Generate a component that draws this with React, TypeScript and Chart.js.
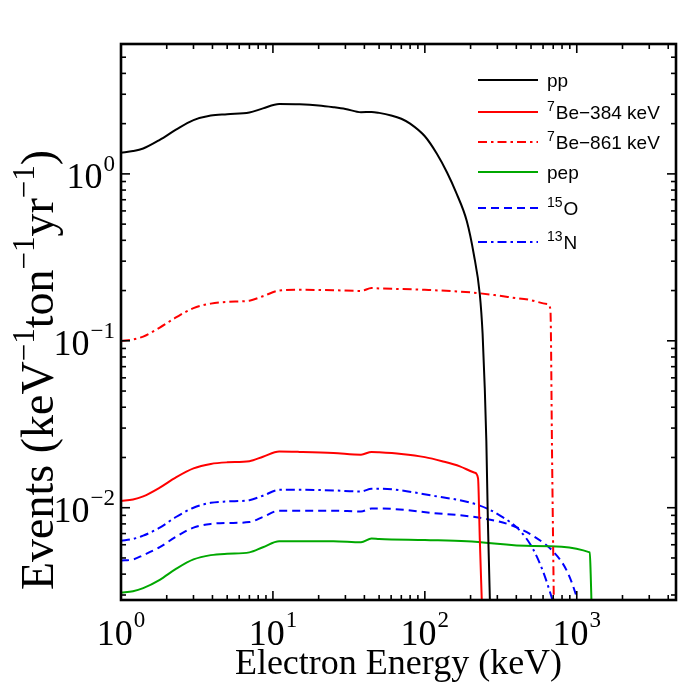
import React, { useEffect, useRef } from 'react';
import { Chart, registerables } from 'chart.js';

Chart.register(...registerables);

// ---- data (keV, events keV^-1 ton^-1 yr^-1) ----
const ppEnergy = [1, 1.2, 1.4, 1.8, 2.3, 3, 3.9, 5, 7, 8.6, 11, 15, 20, 25, 30, 38, 44.6, 50, 60, 70, 80, 100, 120, 140, 160, 189, 210, 230, 240, 248, 254, 260, 264, 268];
const ppRate = [1.34, 1.37, 1.42, 1.6, 1.84, 2.1, 2.24, 2.28, 2.33, 2.47, 2.62, 2.61, 2.57, 2.51, 2.45, 2.34, 2.35, 2.32, 2.24, 2.14, 2.0, 1.68, 1.32, 1.02, 0.78, 0.52, 0.33, 0.19, 0.11, 0.052, 0.025, 0.0083, 0.0048, 0.0028];

const be384Energy = [1, 1.2, 1.4, 1.8, 2.3, 3, 3.9, 5, 7, 8.6, 11, 15, 25, 38, 44.6, 50, 70, 100, 130, 170, 213, 224, 230, 237];
const be384Rate = [0.011, 0.0112, 0.0117, 0.0132, 0.0152, 0.0172, 0.0183, 0.0187, 0.019, 0.0202, 0.0217, 0.0216, 0.0213, 0.0208, 0.0216, 0.0215, 0.021, 0.0201, 0.019, 0.0177, 0.0162, 0.015, 0.0065, 0.0028];

const be861Energy = [1, 1.2, 1.4, 1.8, 2.3, 3, 3.9, 5, 7, 8.6, 11, 15, 25, 38, 44.6, 50, 100, 200, 300, 450, 646, 671, 688, 706];
const be861Rate = [0.1, 0.102, 0.106, 0.12, 0.138, 0.157, 0.167, 0.171, 0.174, 0.185, 0.2, 0.202, 0.201, 0.199, 0.207, 0.206, 0.202, 0.195, 0.187, 0.178, 0.166, 0.153, 0.02, 0.0028];

const pepEnergy = [1, 1.2, 1.4, 1.8, 2.3, 3, 3.9, 5, 7, 8.6, 11, 15, 25, 38, 44.6, 50, 100, 189, 513, 1218, 1235, 1250];
const pepRate = [0.0031, 0.00316, 0.0033, 0.0037, 0.0043, 0.0049, 0.0052, 0.0053, 0.0054, 0.0058, 0.0063, 0.0063, 0.0063, 0.0062, 0.00654, 0.0065, 0.0064, 0.0063, 0.0059, 0.0054, 0.004, 0.0027];

const o15Energy = [1, 1.2, 1.4, 1.8, 2.3, 3, 3.9, 5, 7, 8.6, 11, 15, 25, 38, 44.6, 50, 113, 230, 379, 513, 695, 859, 1000, 1020];
const o15Rate = [0.00482, 0.0049, 0.0052, 0.0058, 0.0067, 0.0076, 0.008, 0.0081, 0.0082, 0.0088, 0.0096, 0.0096, 0.0096, 0.0095, 0.0099, 0.0099, 0.0093, 0.0087, 0.0078, 0.0068, 0.0055, 0.0042, 0.0029, 0.0027];

const n13Energy = [1, 1.2, 1.4, 1.8, 2.3, 3, 3.9, 5, 7, 8.6, 11, 15, 25, 38, 44.6, 50, 113, 230, 311, 422, 513, 597, 684, 700];
const n13Rate = [0.00634, 0.0065, 0.0068, 0.0076, 0.0088, 0.01, 0.0107, 0.0109, 0.0111, 0.0118, 0.0128, 0.0128, 0.0127, 0.0125, 0.013, 0.013, 0.0118, 0.0103, 0.009, 0.0073, 0.0057, 0.0042, 0.0029, 0.0027];

const xTickValues = [1, 10, 100, 1000];
const xTickExponents = ['0', '1', '2', '3'];
const yTickValues = [0.01, 0.1, 1];
const yTickExponents = ['\u22122', '\u22121', '0'];

const legendSup = ['', '7', '7', '', '15', '13'];
const legendMain = ['pp', 'Be\u2212384 keV', 'Be\u2212861 keV', 'pep', 'O', 'N'];
const xTitle = 'Electron Energy (keV)';
const yTitleParts: [string, boolean][] = [
  ['Events (keV', false], ['\u22121', true], ['ton', false], ['\u22121', true], ['yr', false], ['\u22121', true], [')', false],
];

const SERIF = '"Liberation Serif", "Times New Roman", serif';
const SANS = '"Liberation Sans", Arial, sans-serif';

const toPoints = (xs: number[], ys: number[]) => xs.map((x, i) => ({ x, y: ys[i] }));

const framePlugin = {
  id: 'mmaFrame',
  afterDraw(chart: any) {
    const { ctx, chartArea: a, scales } = chart;
    const xs = scales.x;
    const ys = scales.y;
    ctx.save();
    ctx.strokeStyle = '#000';
    ctx.fillStyle = '#000';

    const seg = (x1: number, y1: number, x2: number, y2: number) => {
      ctx.beginPath();
      ctx.moveTo(x1, y1);
      ctx.lineTo(x2, y2);
      ctx.stroke();
    };

    // ticks
    ctx.lineWidth = 1.6;
    for (const d of [1, 10, 100, 1000]) {
      for (let m = 1; m <= 9; m++) {
        const v = d * m;
        if (v < xs.min || v > xs.max) continue;
        const px = xs.getPixelForValue(v);
        const len = m === 1 ? 9 : 5;
        seg(px, a.bottom, px, a.bottom - len);
        seg(px, a.top, px, a.top + len);
      }
    }
    for (const d of [0.001, 0.01, 0.1, 1]) {
      for (let m = 1; m <= 9; m++) {
        const v = d * m;
        if (v < ys.min || v > ys.max) continue;
        const py = ys.getPixelForValue(v);
        const len = m === 1 ? 9 : 5;
        seg(a.left, py, a.left + len, py);
        seg(a.right, py, a.right - len, py);
      }
    }

    // frame
    ctx.lineWidth = 2.6;
    ctx.strokeRect(a.left, a.top, a.right - a.left, a.bottom - a.top);

    // tick labels
    const baseFont = `36px ${SERIF}`;
    const expFont = `23px ${SERIF}`;
    ctx.textBaseline = 'alphabetic';
    ctx.textAlign = 'left';
    xTickValues.forEach((v, i) => {
      const px = xs.getPixelForValue(v);
      ctx.font = baseFont;
      const wb = ctx.measureText('10').width;
      ctx.font = expFont;
      const we = ctx.measureText(xTickExponents[i]).width;
      const x0 = px - (wb + we + 1) / 2;
      ctx.font = baseFont;
      ctx.fillText('10', x0, a.bottom + 45);
      ctx.font = expFont;
      ctx.fillText(xTickExponents[i], x0 + wb + 1, a.bottom + 27);
    });
    yTickValues.forEach((v, i) => {
      const py = ys.getPixelForValue(v);
      ctx.font = baseFont;
      const wb = ctx.measureText('10').width;
      ctx.font = expFont;
      const we = ctx.measureText(yTickExponents[i]).width;
      const xr = a.left - 6;
      ctx.font = baseFont;
      ctx.fillText('10', xr - we - 1 - wb, py + 14);
      ctx.font = expFont;
      ctx.fillText(yTickExponents[i], xr - we, py - 3);
    });

    // x title
    ctx.font = `36px ${SERIF}`;
    ctx.textAlign = 'center';
    ctx.fillText(xTitle, (a.left + a.right) / 2, a.bottom + 74);

    // y title (rotated)
    const mainF = `46px ${SERIF}`;
    const supF = `31px ${SERIF}`;
    let total = 0;
    const widths = yTitleParts.map(([t, sup]) => {
      ctx.font = sup ? supF : mainF;
      const w = ctx.measureText(t).width;
      total += w;
      return w;
    });
    ctx.save();
    ctx.translate(a.left - 68, 362);
    ctx.rotate(-Math.PI / 2);
    ctx.textAlign = 'left';
    let cx = -total / 2;
    yTitleParts.forEach(([t, sup], i) => {
      ctx.font = sup ? supF : mainF;
      ctx.fillText(t, cx, sup ? -19 : 0);
      cx += widths[i];
    });
    ctx.restore();

    // legend
    const rows = [72, 104, 134, 164, 200, 234];
    const lx1 = a.left + 357;
    const lx2 = a.left + 417;
    const tx = a.left + 426;
    chart.data.datasets.forEach((ds: any, i: number) => {
      const y = rows[i];
      ctx.save();
      ctx.strokeStyle = ds.borderColor;
      ctx.lineWidth = ds.borderWidth;
      ctx.setLineDash(ds.borderDash || []);
      seg(lx1, y, lx2, y);
      ctx.restore();
      let x = tx;
      ctx.textAlign = 'left';
      if (legendSup[i]) {
        ctx.font = `14px ${SANS}`;
        ctx.fillText(legendSup[i], x, y - 1);
        x += ctx.measureText(legendSup[i]).width + 1;
      }
      ctx.font = `19px ${SANS}`;
      ctx.fillText(legendMain[i], x, y + 7);
    });

    ctx.restore();
  },
};

export default function App() {
  const canvasRef = useRef<HTMLCanvasElement | null>(null);

  useEffect(() => {
    if (!canvasRef.current) return;
    const chart = new Chart(canvasRef.current, {
      type: 'line',
      data: {
        datasets: [
          { label: 'pp', data: toPoints(ppEnergy, ppRate), borderColor: '#000000', borderWidth: 2 },
          { label: '7Be-384 keV', data: toPoints(be384Energy, be384Rate), borderColor: '#ff0000', borderWidth: 2 },
          { label: '7Be-861 keV', data: toPoints(be861Energy, be861Rate), borderColor: '#ff0000', borderWidth: 2, borderDash: [9, 4, 2.5, 4] },
          { label: 'pep', data: toPoints(pepEnergy, pepRate), borderColor: '#00a800', borderWidth: 2 },
          { label: '15O', data: toPoints(o15Energy, o15Rate), borderColor: '#0000ff', borderWidth: 2, borderDash: [8, 5] },
          { label: '13N', data: toPoints(n13Energy, n13Rate), borderColor: '#0000ff', borderWidth: 2, borderDash: [9, 4, 2.5, 4] },
        ] as any,
      },
      options: {
        responsive: true,
        maintainAspectRatio: false,
        animation: false,
        layout: { padding: { left: 113, top: 36, right: 8, bottom: 88 } },
        plugins: { legend: { display: false }, tooltip: { enabled: false } },
        elements: { point: { radius: 0 }, line: { cubicInterpolationMode: 'monotone', fill: false } },
        scales: {
          x: { type: 'logarithmic', min: 1, max: 4500, display: false },
          y: { type: 'logarithmic', min: 0.0028, max: 6, display: false },
        },
      } as any,
      plugins: [framePlugin],
    });
    return () => chart.destroy();
  }, []);

  return (
    <div style={{ width: 676, height: 680, position: 'relative' }}>
      <canvas ref={canvasRef} />
    </div>
  );
}
